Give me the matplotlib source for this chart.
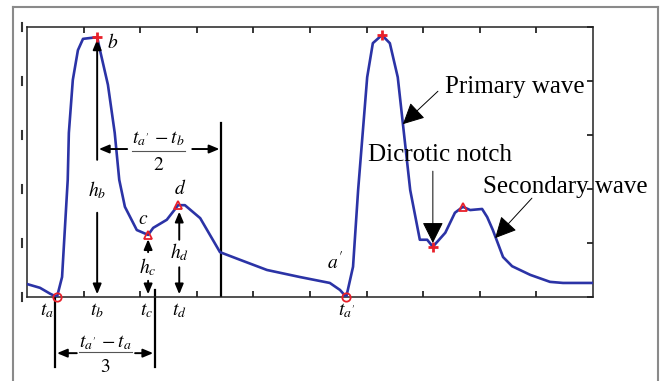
import matplotlib.pyplot as plt
from matplotlib.lines import Line2D

plt.rcParams['font.family'] = ['Liberation Serif', 'DejaVu Serif']
plt.rcParams['mathtext.fontset'] = 'stix'

# ============================================================
# Data (x: 0..10, y: 0..5)
# ============================================================

wave_x = [0.00, 0.23, 0.41, 0.53, 0.62, 0.72, 0.74, 0.81, 0.90, 0.99, 1.15, 1.24,
          1.29, 1.43, 1.55, 1.63, 1.73, 1.94, 2.14, 2.23, 2.47, 2.67, 2.79, 3.06,
          3.41, 3.76, 4.24, 4.82, 5.35, 5.53, 5.64, 5.76, 5.85, 6.01, 6.11, 6.27,
          6.41, 6.55, 6.77, 6.94, 7.07, 7.17, 7.39, 7.56, 7.70, 7.83, 8.04, 8.13,
          8.23, 8.41, 8.57, 8.89, 9.24, 9.47, 10.0]
wave_y = [0.24, 0.17, 0.06, 0.00, 0.37, 2.17, 3.04, 4.02, 4.57, 4.78, 4.80, 4.81,
          4.57, 3.93, 3.04, 2.17, 1.67, 1.24, 1.15, 1.28, 1.43, 1.70, 1.70, 1.46,
          0.83, 0.69, 0.50, 0.37, 0.26, 0.13, 0.00, 0.56, 1.98, 4.07, 4.70, 4.85,
          4.70, 4.07, 1.98, 1.06, 1.06, 0.93, 1.19, 1.56, 1.67, 1.61, 1.63, 1.48,
          1.24, 0.74, 0.57, 0.41, 0.28, 0.26, 0.26]

# feature points
foot_x = [0.53, 5.64]          # a, a'
foot_y = [0.00, 0.00]
peak_x = [1.24, 6.27, 7.17]    # b, second peak, notch
peak_y = [4.81, 4.85, 0.93]
tri_x = [2.14, 2.67, 7.70]     # c, d, secondary peak
tri_y = [1.15, 1.70, 1.67]

tb, hb = 1.24, 4.81
tc, hc = 2.14, 1.15
td, hd = 2.69, 1.70
ta, ta2 = 0.53, 5.64

BLUE = '#2b33a6'
RED = '#e8202a'

# ============================================================
# Figure
# ============================================================

fig = plt.figure(figsize=(6.61, 3.81), dpi=100)
ax = fig.add_axes([0.0408, 0.2205, 0.8564, 0.7087])

# outer frame of the figure
frame_kw = dict(color='#8a8a8a', lw=1.5, transform=fig.transFigure)
fig.add_artist(Line2D([0.0197, 0.0197], [0.0, 0.9816], **frame_kw))
fig.add_artist(Line2D([0.0197, 0.9955], [0.9816, 0.9816], **frame_kw))
fig.add_artist(Line2D([0.9955, 0.9955], [0.0, 0.9816], **frame_kw))

ax.plot(wave_x, wave_y, color=BLUE, lw=1.9, zorder=3)
ax.plot(foot_x, foot_y, 'o', mfc='none', mec=RED, mew=1.3, ms=6, zorder=4, clip_on=False)
ax.plot(peak_x, peak_y, '+', color=RED, mew=2, ms=7, zorder=4)
ax.plot(tri_x, tri_y, '^', mfc='none', mec=RED, mew=1.3, ms=6, zorder=4)

ax.set_xlim(0, 10)
ax.set_ylim(0, 5)
ax.set_xticks(range(1, 10))
ax.set_yticks(range(0, 6))
ax.set_xticklabels([])
ax.set_yticklabels([])
ax.tick_params(axis='x', which='both', direction='in', top=True, length=4, width=1.1)
ax.tick_params(axis='y', which='both', direction='in', right=True, left=False, length=4, width=1.1)
for s in ax.spines.values():
    s.set_linewidth(1.1)
    s.set_color('#222222')

# clipped tick-label remnants on the left edge
for yv in range(0, 6):
    ax.plot([-0.09, -0.09], [yv - 0.08, yv + 0.08], color='#333333', lw=1.5, clip_on=False)

# ============================================================
# Annotations
# ============================================================

MS = 14
WS = 18
arr = dict(arrowstyle='-|>,head_length=0.6,head_width=0.25', color='black', lw=1.4,
           mutation_scale=10, shrinkA=0, shrinkB=0)


def arrow(x0, y0, x1, y1):
    ax.annotate('', xy=(x1, y1), xytext=(x0, y0), arrowprops=arr, annotation_clip=False)


# b and h_b
ax.text(tb + 0.18, hb - 0.1, '$b$', fontsize=MS, ha='left', va='center')
arrow(tb, 2.54, tb, hb - 0.04)
ax.text(tb, 1.98, '$h_b$', fontsize=MS, ha='center', va='center')
arrow(tb, 1.56, tb, 0.05)

# (t_a' - t_b)/2
arrow(1.77, 2.74, tb + 0.03, 2.74)
arrow(2.92, 2.74, 3.40, 2.74)
ax.plot([3.43, 3.43], [0, 3.22], color='black', lw=1.6)
ax.text(2.32, 2.93, "$t_{a'}\\,-t_b$", fontsize=MS, ha='center', va='center')
ax.plot([1.86, 2.79], [2.70, 2.70], color='#555555', lw=0.8)
ax.text(2.32, 2.44, '$2$', fontsize=MS, ha='center', va='center')

# c and h_c
ax.text(2.05, 1.43, '$c$', fontsize=MS, ha='center', va='center')
arrow(tc, 0.83, tc, hc - 0.08)
ax.text(tc, 0.56, '$h_c$', fontsize=MS, ha='center', va='center')
arrow(tc, 0.30, tc, 0.05)

# d and h_d
ax.text(2.70, 2.0, '$d$', fontsize=MS, ha='center', va='center')
arrow(td, 1.06, td, hd - 0.12)
ax.text(td, 0.83, '$h_d$', fontsize=MS, ha='center', va='center')
arrow(td, 0.55, td, 0.05)

# t labels under the axis
t_pos = [0.35, tb, 2.12, td, ta2]
t_txt = ['$t_a$', '$t_b$', '$t_c$', '$t_d$', "$t_{a'}$"]
for xp, tx in zip(t_pos, t_txt):
    ax.text(xp, -0.26, tx, fontsize=MS, ha='center', va='center', clip_on=False)

# (t_a' - t_a)/3
ax.plot([ta - 0.03, ta - 0.03], [0, -1.30], color='black', lw=1.6, clip_on=False)
ax.plot([2.26, 2.26], [0.13, -1.30], color='black', lw=1.6, clip_on=False)
arrow(0.88, -1.04, ta, -1.04)
arrow(1.91, -1.04, 2.23, -1.04)
ax.text(1.38, -0.84, "$t_{a'}\\,-t_a$", fontsize=MS, ha='center', va='center', clip_on=False)
ax.plot([0.92, 1.86], [-1.02, -1.02], color='#555555', lw=0.8, clip_on=False)
ax.text(1.38, -1.30, '$3$', fontsize=MS, ha='center', va='center', clip_on=False)

# a'
ax.text(5.44, 0.65, "$a'$", fontsize=MS, ha='center', va='center')

# wave labels
big = dict(arrowstyle='-|>,head_length=1.1,head_width=0.55', color='black', lw=0.7,
           mutation_scale=12, shrinkA=0, shrinkB=0)
ax.annotate('', xy=(6.64, 3.20), xytext=(7.26, 3.81), arrowprops=big)
ax.text(7.39, 3.89, 'Primary wave', fontsize=WS, ha='left', va='center')
ax.annotate('', xy=(7.17, 1.0), xytext=(7.17, 2.33), arrowprops=big)
ax.text(6.02, 2.63, 'Dicrotic notch', fontsize=WS, ha='left', va='center')
ax.annotate('', xy=(8.27, 1.09), xytext=(8.92, 1.83), arrowprops=big)
ax.text(8.06, 2.04, 'Secondary wave', fontsize=WS, ha='left', va='center', clip_on=False)

plt.savefig('out.png', dpi=100)
